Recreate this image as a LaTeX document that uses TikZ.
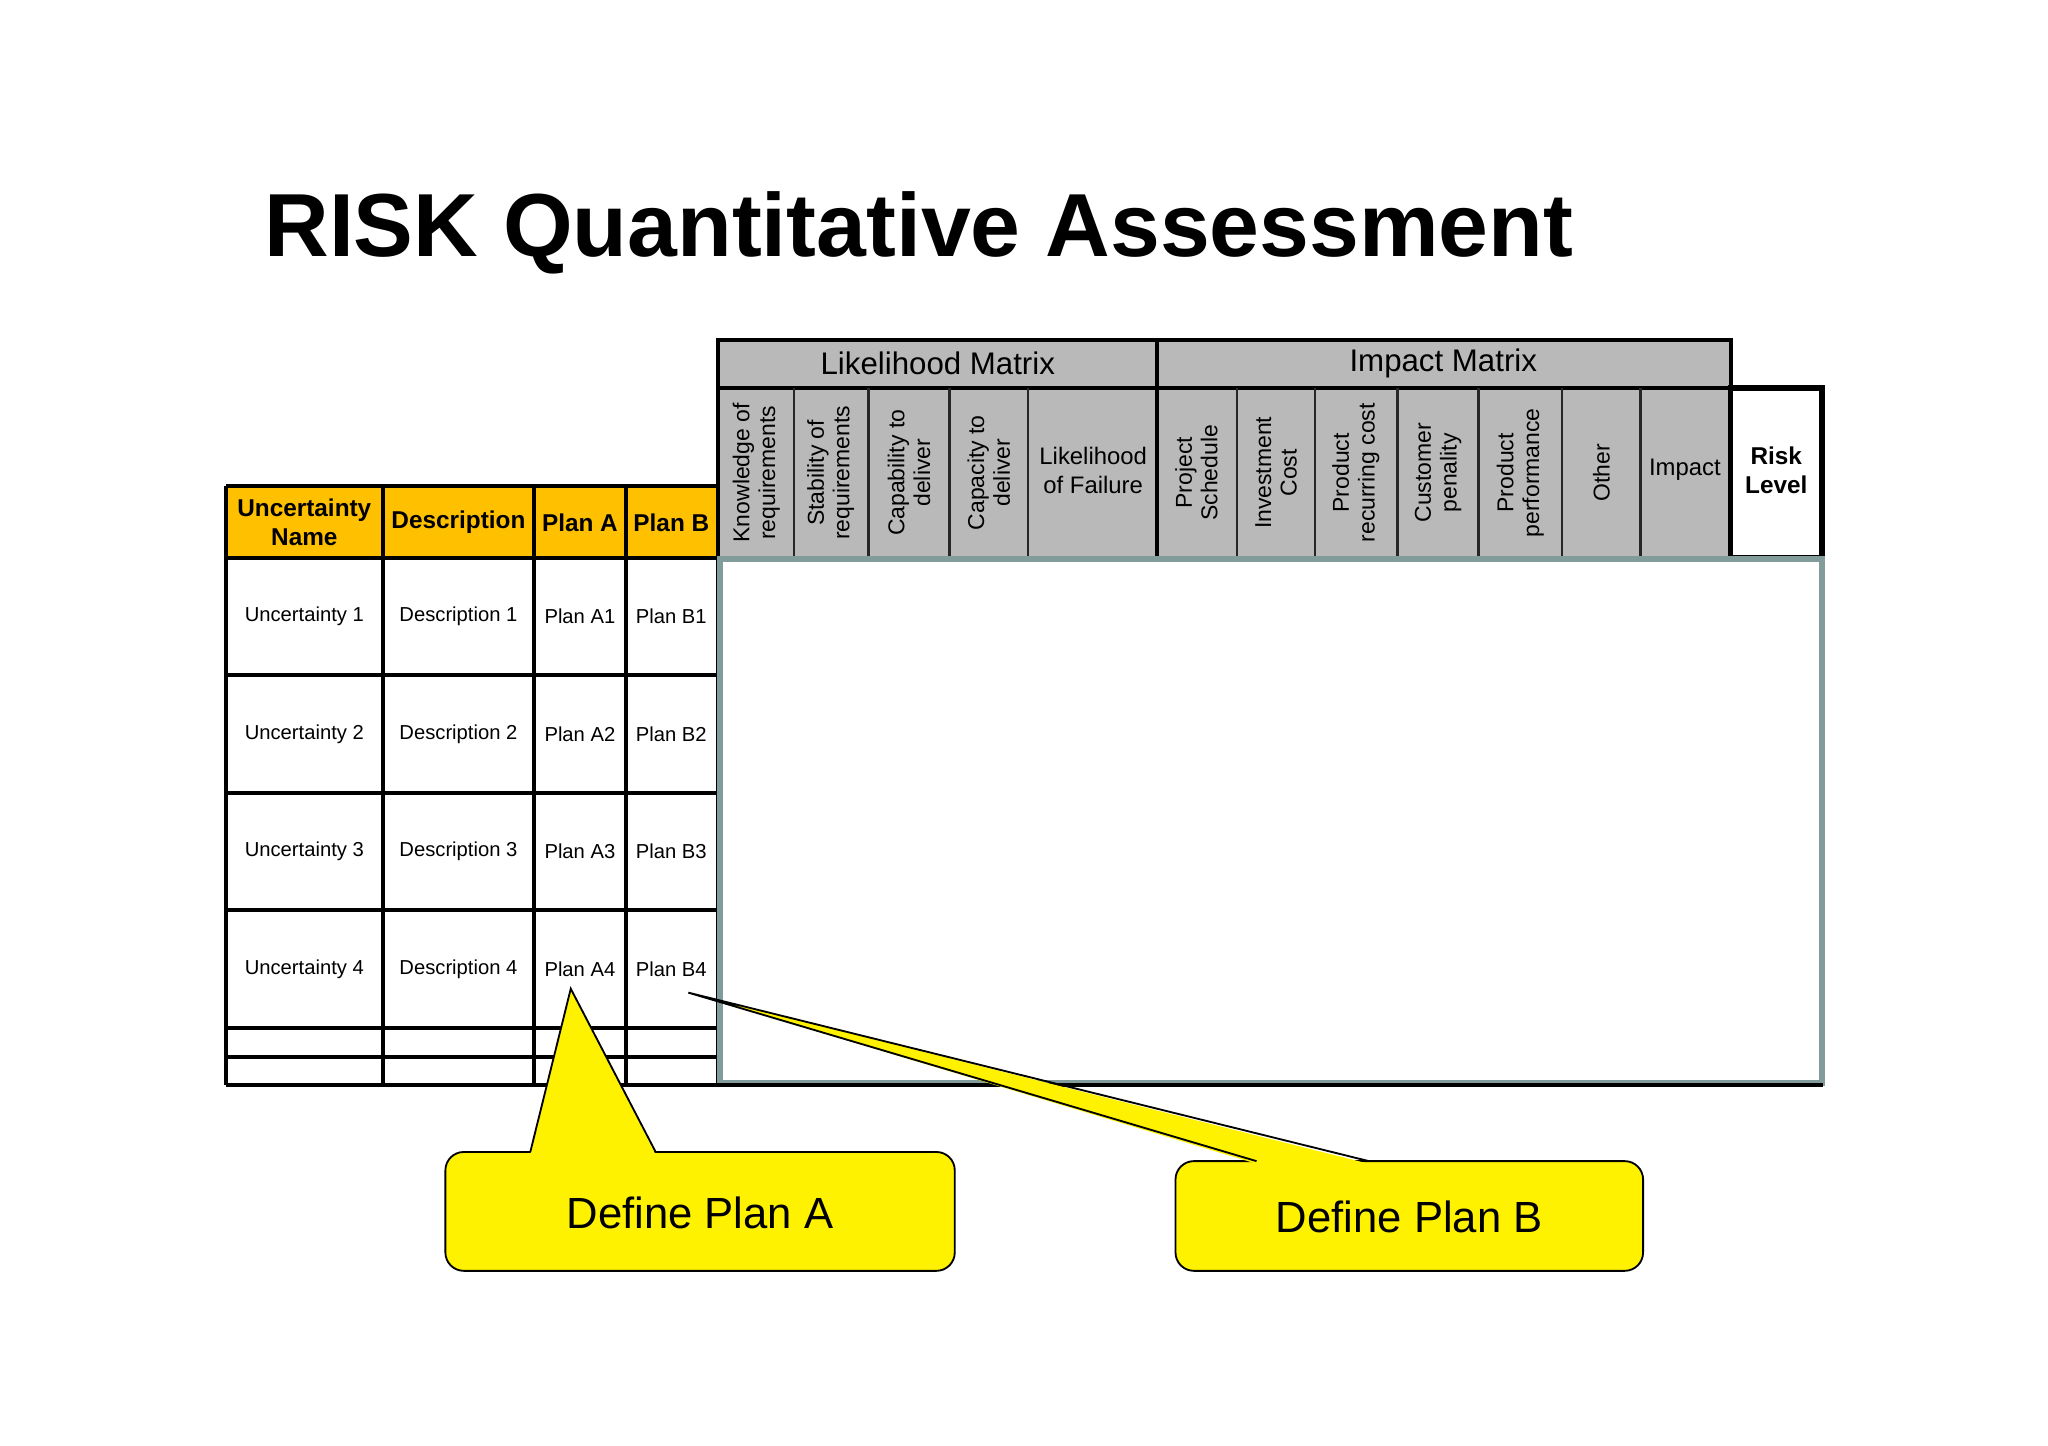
\documentclass[tikz,border=0pt]{standalone}
\usepackage{fontspec}
\setmainfont{Liberation Sans}
\begin{document}
\begin{tikzpicture}[x=0.01cm,y=-0.01cm,
  cell/.style={font=\fontsize{4.4}{5.2}\selectfont,align=center},
  hdr/.style={font=\bfseries\fontsize{5.3}{6.3}\selectfont,align=center},
  rot/.style={font=\fontsize{5}{5.6}\selectfont,align=center,rotate=90},
  call/.style={draw=black,fill=yellow,line width=0.4pt,rounded corners=4}]
\useasboundingbox (0,0) rectangle (1568,1107);
\node[anchor=west,font=\bfseries\fontsize{19.5}{22}\selectfont] (title) at (190,178) {RISK Quantitative Assessment};
% left table header
\fill[orange!60!yellow!100, fill={rgb,255:red,255;green,192;blue,0}] (173,372) rectangle (550,427);
\foreach \x in {173,293,409,479,550}{\draw[line width=0.9pt] (\x,372) -- (\x,831);}
\foreach \y in {372,427,517,607,697,787,809,831}{\draw[line width=0.9pt] (173,\y) -- (550,\y);}
\node[hdr] (h1) at (233,400) {Uncertainty\\Name};
\node[hdr] (h2) at (351,400) {Description};
\node[hdr] (h3) at (444,400) {Plan A};
\node[hdr] (h4) at (514,400) {Plan B};
\foreach \i/\y in {1/472,2/562,3/652,4/742}{
  \node[cell] (u\i) at (233,\y) {Uncertainty \i};
  \node[cell] (d\i) at (351,\y) {Description \i};
  \node[cell] (a\i) at (444,\y) {Plan A\i};
  \node[cell] (b\i) at (514,\y) {Plan B\i};}
% grey headers
\fill[gray!55] (550,260) rectangle (1325,427);
\draw[line width=0.9pt] (550,427) -- (550,260) -- (1325,260) -- (1325,427);
\draw[line width=0.9pt] (550,297) -- (1325,297);
\draw[line width=0.9pt] (886,260) -- (886,427);
\foreach \x in {608,665,727,787,947,1007,1070,1132,1196,1256}{\draw[line width=0.5pt,gray!30!black] (\x,297) -- (\x,427);}
\node[font=\fontsize{6.8}{8}\selectfont] (lm) at (718,278) {Likelihood Matrix};
\node[font=\fontsize{6.8}{8}\selectfont] (im) at (1105,278) {Impact Matrix};
\node[rot] (c1) at (579,362) {Knowledge of\\requirements};
\node[rot] (c2) at (636,362) {Stability of\\requirements};
\node[rot] (c3) at (696,362) {Capability to\\deliver};
\node[rot] (c4) at (757,362) {Capacity to\\deliver};
\node[cell,font=\fontsize{5.2}{6.4}\selectfont] (c5) at (837,360) {Likelihood\\of Failure};
\node[rot] (c6) at (916,362) {Project\\Schedule};
\node[rot] (c7) at (977,362) {Investment\\Cost};
\node[rot] (c8) at (1038,362) {Product\\recurring cost};
\node[rot] (c9) at (1101,362) {Customer\\penality};
\node[rot] (c10) at (1164,362) {Product\\performance};
\node[rot] (c11) at (1226,362) {Other};
\node[cell,font=\fontsize{5.2}{6.4}\selectfont] (c12) at (1290,360) {Impact};
\draw[line width=1.2pt] (1325,297) rectangle (1395,427);
\node[hdr] (rl) at (1360,360) {Risk\\Level};
% body box
\draw[line width=1.3pt,draw={rgb,255:red,130;green,155;blue,155}] (551,428) rectangle (1395,829);
\draw[line width=0.9pt] (173,831) -- (1396,831);
% callouts
\draw[call] (341,882) rectangle (731,973);
\fill[yellow] (406,884) -- (437,757) -- (502,884) -- cycle;
\draw[line width=0.4pt] (406,882) -- (437,757) -- (502,882);
\node[font=\fontsize{9.5}{11}\selectfont] (pa) at (536,929) {Define Plan A};
\draw[call] (900,889) rectangle (1258,973);
\fill[yellow] (962,891) -- (527,760) -- (1048,891) -- cycle;
\draw[line width=0.4pt] (962,889) -- (527,760) -- (1048,889);
\node[font=\fontsize{9.5}{11}\selectfont] (pb) at (1079,932) {Define Plan B};
\end{tikzpicture}
\end{document}
